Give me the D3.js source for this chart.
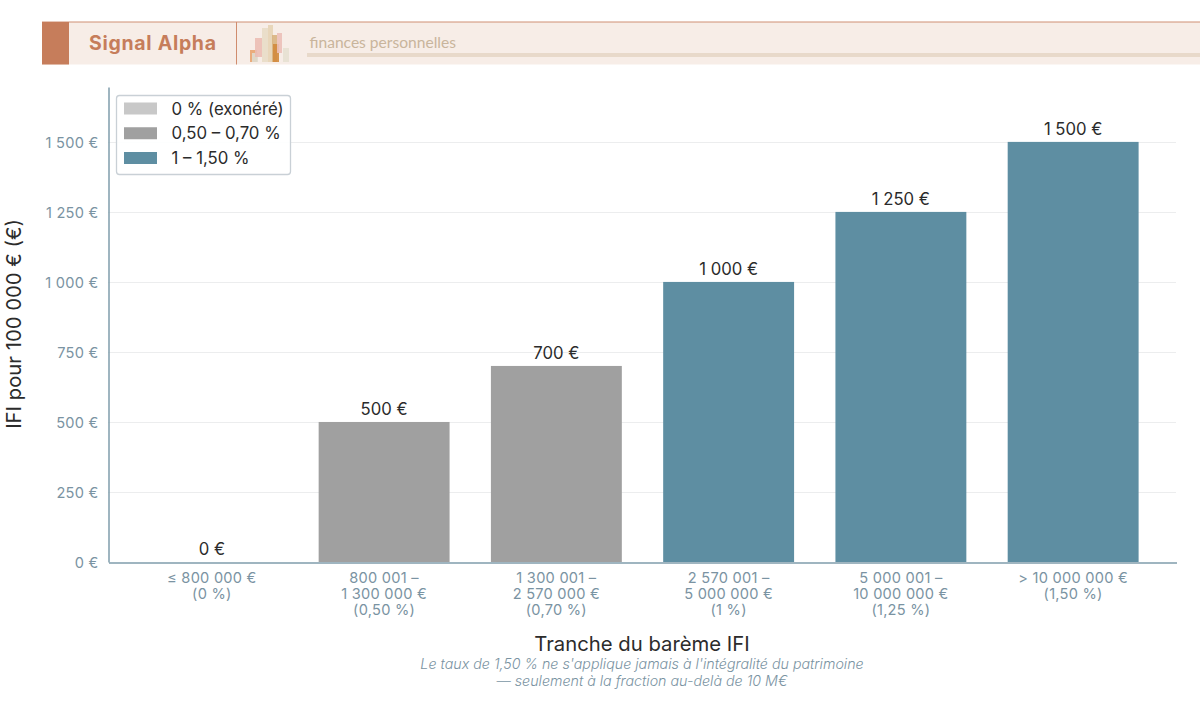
<!DOCTYPE html>
<html lang="fr">
<head>
<meta charset="utf-8">
<script src="https://cdn.jsdelivr.net/npm/d3@7"></script>
<style>
html,body{margin:0;padding:0;background:#fff}
svg{display:block}
text{font-family:Inter,"Noto Sans",sans-serif}
</style>
</head>
<body>
<svg id="chart" width="1200" height="721"></svg>
<script>
// Barème IFI : impôt dû pour 100 000 € de patrimoine, par tranche
const brackets = ["t0", "t1", "t2", "t3", "t4", "t5"];
const taxValues = [0, 500, 700, 1000, 1250, 1500];
const barGroups = ["none", "low", "low", "high", "high", "high"];
const bracketLabels = [
  ["≤ 800 000 €", "(0 %)"],
  ["800 001 –", "1 300 000 €", "(0,50 %)"],
  ["1 300 001 –", "2 570 000 €", "(0,70 %)"],
  ["2 570 001 –", "5 000 000 €", "(1 %)"],
  ["5 000 001 –", "10 000 000 €", "(1,25 %)"],
  ["> 10 000 000 €", "(1,50 %)"]
];
const yTicks = [0, 250, 500, 750, 1000, 1250, 1500];
const legendKeys = ["none", "low", "high"];
const legendLabels = ["0 % (exonéré)", "0,50 – 0,70 %", "1 – 1,50 %"];
const noteLines = ["Le taux de 1,50 % ne s'applique jamais à l'intégralité du patrimoine", "— seulement à la fraction au-delà de 10 M€"];

// Petit motif de barres du bandeau : bord gauche, bord droit, haut, bas, couleur
const logoLeft = [250, 252, 255, 262, 268, 272, 273, 277, 283];
const logoRight = [257, 258, 262, 268, 273, 277, 279, 282, 289];
const logoTop = [50, 53, 38, 28, 25, 35, 44, 33, 48];
const logoBottom = [62, 62, 57, 62, 62, 62, 62, 53, 62];
const logoColors = ["#e8a470", "#dfdccf", "#ebbcb4", "#e8dcc6", "#e5d3b5", "#d8b380", "#d18a3c", "#ebbfb8", "#e6e0d2"];

const fmt = v => d3.format(",")(v).replace(/,/g, " ") + " €";
const palette = d3.scaleOrdinal().domain(legendKeys).range(["#c8c8c8", "#a0a0a0", "#5e8ea2"]);
const axisColor = "#7f9cab", tickColor = "#7a93a2", inkColor = "#2b2b2b";

const svg = d3.select("#chart");
const x = d3.scaleBand().domain(brackets).range([108.5, 1176.5]).paddingInner(0.24).paddingOuter(0.22);
const y = d3.scaleLinear().domain([0, 1696]).range([562, 87]);

// Bandeau
const banner = svg.append("g");
banner.append("rect").attr("x", 42).attr("y", 22).attr("width", 1158).attr("height", 42.5).attr("fill", "#f7ede7");
banner.append("rect").attr("x", 42).attr("y", 21.5).attr("width", 1158).attr("height", 1).attr("fill", "#d08f75");
banner.append("rect").attr("x", 42).attr("y", 22).attr("width", 27).attr("height", 42.5).attr("fill", "#c67d5b");
banner.append("rect").attr("x", 236).attr("y", 22).attr("width", 1).attr("height", 42.5).attr("fill", "#d08c6e");
banner.append("rect").attr("x", 307).attr("y", 53).attr("width", 893).attr("height", 4).attr("fill", "#e8d9ca");
banner.append("text").attr("x", 89).attr("y", 49.5).attr("font-size", 19.5).attr("font-weight", 700)
  .attr("fill", "#c67d5b").attr("letter-spacing", "0.7").style("font-family", "Inter, sans-serif").text("Signal Alpha");
banner.append("text").attr("x", 309.5).attr("y", 47.5).attr("font-size", 15.6).attr("font-weight", 400)
  .attr("fill", "#c9b59c").style("font-family", "Lato, Inter, sans-serif").text("finances personnelles");
banner.append("g").selectAll("rect").data(logoLeft).join("rect")
  .attr("x", d => d)
  .attr("y", (d, i) => logoTop[i])
  .attr("width", (d, i) => logoRight[i] - d)
  .attr("height", (d, i) => logoBottom[i] - logoTop[i])
  .attr("fill", (d, i) => logoColors[i])
  .attr("opacity", 0.9);

// Grille horizontale
svg.append("g").selectAll("line").data(yTicks.slice(1)).join("line")
  .attr("x1", 108).attr("x2", 1176)
  .attr("y1", d => Math.round(y(d)) + 0.5).attr("y2", d => Math.round(y(d)) + 0.5)
  .attr("stroke", "#ecedee").attr("stroke-width", 1);

// Barres
svg.append("g").selectAll("rect").data(brackets).join("rect")
  .attr("x", d => x(d))
  .attr("y", (d, i) => y(taxValues[i]))
  .attr("width", x.bandwidth())
  .attr("height", (d, i) => y(0) - y(taxValues[i]))
  .attr("fill", (d, i) => palette(barGroups[i]));

// Valeurs au-dessus des barres
svg.append("g").selectAll("text").data(brackets).join("text")
  .attr("x", d => x(d) + x.bandwidth() / 2)
  .attr("y", (d, i) => y(taxValues[i]) - 6.8)
  .attr("text-anchor", "middle").attr("font-size", 16.7).attr("fill", inkColor)
  .text((d, i) => fmt(taxValues[i]));

// Axe Y
const yAxis = d3.axisLeft(y).tickValues(yTicks).tickSize(0).tickPadding(10).tickFormat(fmt);
const yG = svg.append("g").attr("transform", "translate(108.5,0)").call(yAxis);
yG.select(".domain").attr("stroke", axisColor).attr("stroke-width", 1.5);
yG.selectAll("text").attr("font-size", 14.6).attr("letter-spacing", "0.25").attr("fill", tickColor)
  .attr("dy", "0.38em").style("font-family", "Inter, sans-serif");

// Axe X et libellés de tranches sur plusieurs lignes
const xAxis = d3.axisBottom(x).tickSize(0).tickFormat("");
const xG = svg.append("g").attr("transform", "translate(0,562.5)").call(xAxis);
xG.select(".domain").attr("stroke", axisColor).attr("stroke-width", 1.5);
svg.append("g").selectAll("text").data(brackets).join("text")
  .attr("text-anchor", "middle").attr("font-size", 14.6).attr("letter-spacing", "0.25").attr("fill", tickColor)
  .each(function (d, i) {
    d3.select(this).selectAll("tspan").data(bracketLabels[i]).join("tspan")
      .attr("x", x(d) + x.bandwidth() / 2)
      .attr("y", (l, j) => 583 + j * 16)
      .text(l => l);
  });

// Titres d'axes et note
svg.append("text").attr("x", 642).attr("y", 651).attr("text-anchor", "middle")
  .attr("font-size", 20.3).attr("fill", inkColor).text("Tranche du barème IFI");
svg.append("text").attr("transform", "translate(21,324) rotate(-90)").attr("text-anchor", "middle")
  .attr("font-size", 20.3).attr("fill", inkColor).text("IFI pour 100 000 € (€)");
svg.append("g").selectAll("text").data(noteLines).join("text")
  .attr("x", 642).attr("y", (d, i) => 669 + i * 17).attr("text-anchor", "middle")
  .attr("font-size", 14.25).attr("font-style", "italic").attr("font-weight", 300).attr("fill", tickColor)
  .text(d => d);

// Légende
const legend = svg.append("g");
legend.append("rect").attr("x", 116.5).attr("y", 95.5).attr("width", 174).attr("height", 79).attr("rx", 3)
  .attr("fill", "#fff").attr("fill-opacity", 0.9).attr("stroke", "#c9d0d6").attr("stroke-width", 1.3);
const legendRow = d3.scalePoint().domain(legendKeys).range([109, 158.5]);
const rows = legend.selectAll("g").data(legendKeys).join("g")
  .attr("transform", d => `translate(0,${legendRow(d)})`);
rows.append("rect").attr("x", 124).attr("y", -6.5).attr("width", 33).attr("height", 12).attr("fill", d => palette(d));
rows.append("text").attr("x", 171.5).attr("y", 5.5).attr("font-size", 16.8).attr("fill", inkColor)
  .text((d, i) => legendLabels[i]);
</script>
</body>
</html>
